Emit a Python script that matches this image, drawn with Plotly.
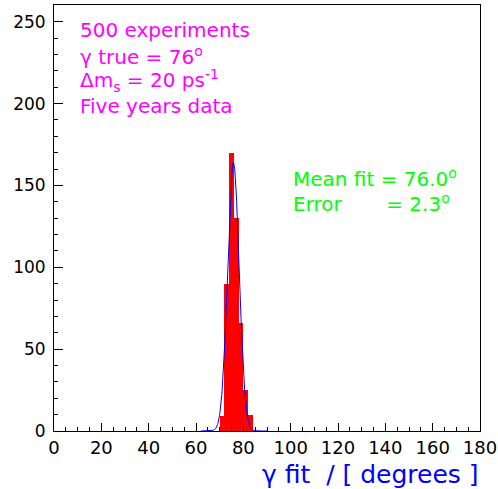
import numpy as np
import plotly.graph_objects as go

# Histogram data (2-degree bins)
bin_left = [70, 72, 74, 76, 78, 80, 82]
counts = [9, 90, 170, 130, 66, 25, 10]
bin_width = 2

# Gaussian fit parameters
fit_amp = 164.0
fit_mean = 75.8
fit_sigma = 2.45
fit_range = [62, 90]

x_ticks = [0, 20, 40, 60, 80, 100, 120, 140, 160, 180]
y_ticks = [0, 50, 100, 150, 200, 250]

info_lines = ["500 experiments", "γ true = 76<sup>o</sup>",
              "Δm<sub>s</sub> = 20 ps<sup>-1</sup>", "Five years data"]
fit_lines = ["Mean fit = 76.0<sup>o</sup>",
             "Error&nbsp;&nbsp;&nbsp;&nbsp;&nbsp;&nbsp;&nbsp;= 2.3<sup>o</sup>"]
x_title = "γ fit&nbsp;&nbsp;/ [ degrees ]"

centers = [b + bin_width / 2 for b in bin_left]
xf = np.linspace(fit_range[0], fit_range[1], 300)
yf = fit_amp * np.exp(-0.5 * ((xf - fit_mean) / fit_sigma) ** 2)

fig = go.Figure()
fig.add_trace(go.Bar(x=centers, y=counts, width=bin_width,
                     marker=dict(color="#ff0000", line=dict(width=0)),
                     showlegend=False, hoverinfo="skip"))
fig.add_trace(go.Scatter(x=xf, y=yf, mode="lines",
                         line=dict(color="#0000ff", width=1),
                         showlegend=False, hoverinfo="skip"))

font = "DejaVu Sans"
L, R, T, B = 54, 480, 5, 431
W, H = 498, 489
PW, PH = R - L, B - T

fig.update_layout(
    width=W, height=H,
    margin=dict(l=L, r=W - R, t=T, b=H - B, autoexpand=False),
    paper_bgcolor="white", plot_bgcolor="white",
    bargap=0,
    font=dict(family=font, color="black"),
)
fig.update_xaxes(range=[0, 180], tickvals=x_ticks, ticks="inside", ticklen=8,
                 tickcolor="black", tickwidth=1,
                 minor=dict(dtick=5, tick0=0, ticks="inside", ticklen=4, tickcolor="black"),
                 showgrid=False, zeroline=False, showline=True, linecolor="black",
                 linewidth=1, mirror=True, tickfont=dict(size=18, family=font))
fig.update_yaxes(range=[0, 260.2], tickvals=y_ticks, ticks="inside", ticklen=9,
                 tickcolor="black", tickwidth=1,
                 minor=dict(dtick=10, tick0=0, ticks="inside", ticklen=4, tickcolor="black"),
                 showgrid=False, zeroline=False, showline=True, linecolor="black",
                 linewidth=1, mirror=True, tickfont=dict(size=17, family=font),
                 ticklabelstandoff=4)


def px_x(x):
    return (x - L) / PW


def px_y(y):
    return (B - y) / PH


info_bottoms = [44.5, 70.5, 96.5, 119.5]
for t, yb in zip(info_lines, info_bottoms):
    fig.add_annotation(text=t, xref="paper", yref="paper",
                       x=px_x(78), y=px_y(yb),
                       xanchor="left", yanchor="bottom", showarrow=False,
                       font=dict(family=font, size=20, color="#ff00ff"))
fit_bottoms = [192.7, 217.5]
for t, yb in zip(fit_lines, fit_bottoms):
    fig.add_annotation(text=t, xref="paper", yref="paper",
                       x=px_x(291), y=px_y(yb),
                       xanchor="left", yanchor="bottom", showarrow=False,
                       font=dict(family=font, size=20, color="#00ff00"))

fig.add_annotation(text=x_title, xref="paper", yref="paper",
                   x=px_x(481), y=px_y(491), xanchor="right", yanchor="bottom",
                   showarrow=False, font=dict(family=font, size=25, color="#0000ff"))

fig.write_html("out.html", post_script="document.body.style.margin='0';",
               config={"displayModeBar": False})
